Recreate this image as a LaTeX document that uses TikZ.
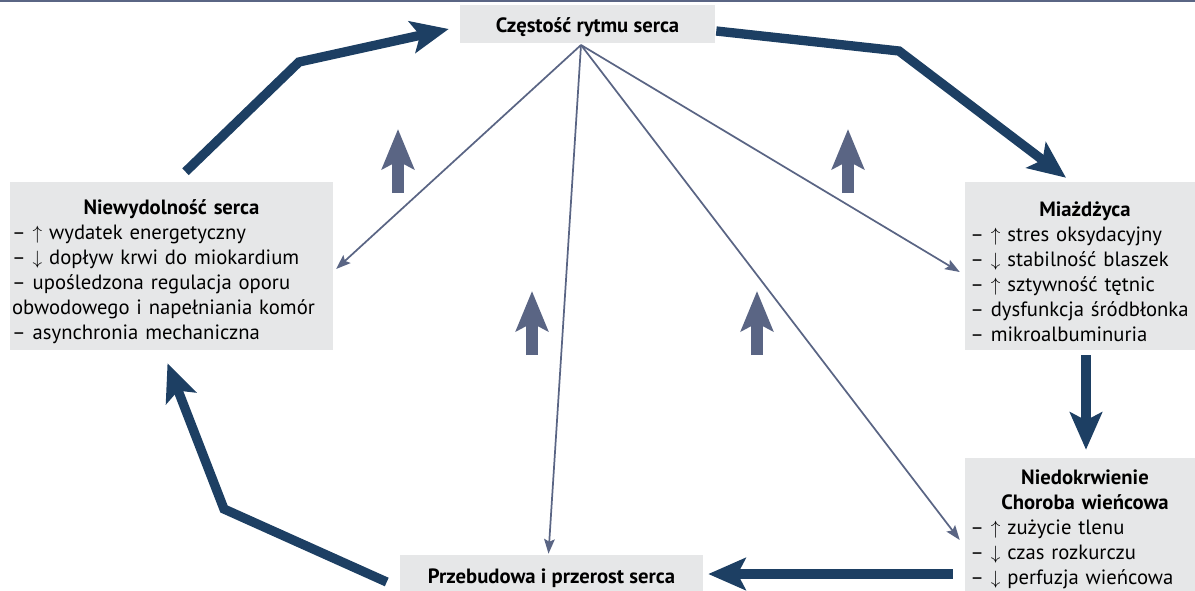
\documentclass[tikz,border=0pt]{standalone}
\usepackage{fontspec}
\setmainfont{PT Sans}
\usetikzlibrary{arrows.meta,calc}
\definecolor{boxgray}{HTML}{E6E7E8}
\definecolor{navy}{HTML}{1D3F63}
\definecolor{slate}{HTML}{5A6584}
\newcommand{\strup}{$\uparrow$}
\newcommand{\strdn}{$\downarrow$}

\begin{document}
\begin{tikzpicture}[x=0.75pt,y=-0.75pt,
  box/.style={fill=boxgray,inner ysep=0pt,font=\fontsize{15.5}{18.75}\selectfont},
  listbox/.style={box,align=left,inner xsep=4pt,execute at begin node={\hyphenpenalty=10000}},
  bigarrow/.style={draw=navy,line width=7pt,line join=miter,
    -{Stealth[length=28pt,width=24pt,inset=6pt]}},
  thinarrow/.style={draw=slate,line width=1.3pt,
    -{Stealth[length=11pt,width=8pt,inset=2pt]}},
  uparrow/.style={draw=slate,line width=8.5pt,
    -{Stealth[length=30pt,width=24pt,inset=6pt]}}]
\useasboundingbox (0,0) rectangle (1195,590);
\draw[slate,line width=1.5pt] (0,1) -- (1195,1);

\node[box,minimum width=191.25pt,minimum height=28.5pt] (hr) at (587.5,24)
  {\bfseries\rule{0pt}{16pt}Częstość rytmu serca};
\node[listbox,inner xsep=1.5pt,text width=239pt,minimum height=126pt] (hf) at (171.5,266)
  {{\centering\bfseries\rule{0pt}{20pt}Niewydolność serca\par}
   – \strup{} wydatek energetyczny\\
   – \strdn{} dopływ krwi do miokardium\\
   – upośledzona regulacja oporu\\
   obwodowego i napełniania komór\\
   – asynchronia mechaniczna};
\node[listbox,text width=172pt,minimum height=126pt] (ath) at (1085,266)
  {{\centering\bfseries\rule{0pt}{20pt}Miażdżyca\par}
   – \strup{} stres oksydacyjny\\
   – \strdn{} stabilność blaszek\\
   – \strup{} sztywność tętnic\\
   – dysfunkcja śródbłonka\\
   – mikroalbuminuria};
\node[listbox,text width=172pt,minimum height=100.5pt] (isch) at (1085,525)
  {{\centering\bfseries\rule{0pt}{18pt}Niedokrwienie\\ Choroba wieńcowa\par}
   – \strup{} zużycie tlenu\\
   – \strdn{} czas rozkurczu\\
   – \strdn{} perfuzja wieńcowa};
\node[box,minimum width=227.25pt,minimum height=31.5pt] (rem) at (551.5,576)
  {\bfseries\rule{0pt}{15pt}Przebudowa i przerost serca};

\coordinate (src) at (581,45);
\coordinate (b1) at (299,62);
\coordinate (b2) at (899,51);
\coordinate (b3) at (224,509);

\draw[bigarrow] ($(hf.north)+(14,-10)$) -- (b1) -- ($(hr.west)+(-11,5)$);
\draw[bigarrow] ($(hr.east)+(1,7)$) -- (b2) -- ($(ath.north)+(-19,-4)$);
\draw[bigarrow] ($(ath.south)+(1,5)$) -- ($(isch.north)+(1,-8)$);
\draw[bigarrow] ($(isch.west)+(-12,49)$) -- ($(rem.east)+(5,-2)$);
\draw[bigarrow] ($(rem.west)+(-13,6)$) -- (b3) -- ($(hf.south)+(-4,13)$);

\draw[thinarrow] (src) -- ($(hf.east)+(3,3)$);
\draw[thinarrow] (src) -- ($(rem.north)+(-3,-1)$);
\draw[thinarrow] (src) -- ($(ath.west)+(-5,6)$);
\draw[thinarrow] (src) -- ($(isch.west)+(-5,15)$);

\draw[uparrow] (398,193) -- (398,129);
\draw[uparrow] (848,193) -- (848,129);
\draw[uparrow] (532,355) -- (532,291);
\draw[uparrow] (757,355) -- (757,291);
\end{tikzpicture}
\end{document}
